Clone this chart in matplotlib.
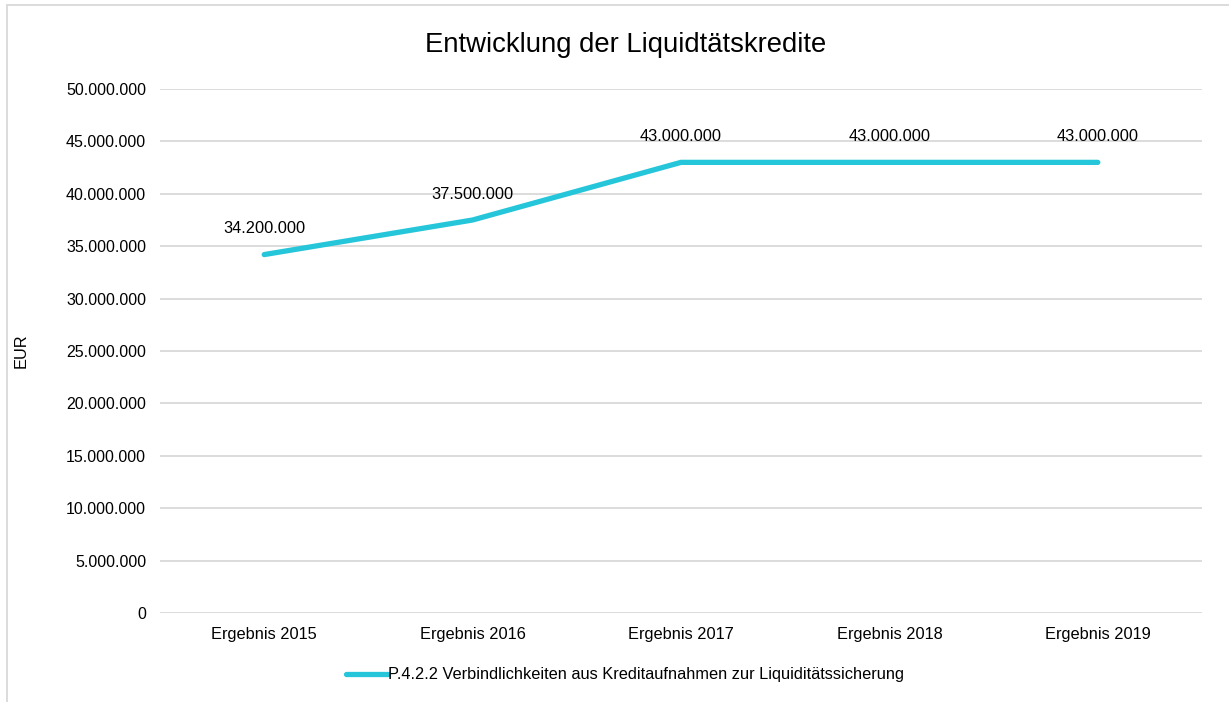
import matplotlib
matplotlib.use("Agg")
import matplotlib.pyplot as plt
from matplotlib.patches import Rectangle
from matplotlib.ticker import FuncFormatter

categories = ["Ergebnis 2015", "Ergebnis 2016", "Ergebnis 2017", "Ergebnis 2018", "Ergebnis 2019"]
values = [34200000, 37500000, 43000000, 43000000, 43000000]
series_name = "P.4.2.2 Verbindlichkeiten aus Kreditaufnahmen zur Liquiditätssicherung"
title = "Entwicklung der Liquidtätskredite"
ylabel = "EUR"

plt.rcParams['font.family'] = ['Liberation Sans', 'DejaVu Sans']

W, H = 1229, 702
fig = plt.figure(figsize=(W/100, H/100), dpi=100)
ax = fig.add_axes([160/W, 1-613/H, (1202-160)/W, (613-89)/H])

FS = 11.8

def fmt(v):
    return f"{int(round(v)):,}".replace(",", ".")

x = list(range(len(categories)))
line, = ax.plot(x, values, color="#26C6DA", lw=3.8, solid_capstyle="round", label=series_name)
for xi, v in zip(x, values):
    ax.annotate(fmt(v), (xi, v), xytext=(0, 18.5), textcoords="offset points",
                ha="center", va="center", fontsize=FS, color="#000000")

ax.set_xlim(-0.5, len(categories)-0.5)
ax.set_ylim(0, 50000000)
ax.set_yticks(range(0, 50000001, 5000000))
ax.yaxis.set_major_formatter(FuncFormatter(lambda v, p: fmt(v)))
ax.set_xticks(x)
ax.set_xticklabels(categories)
ax.tick_params(axis="both", length=0, colors="#000000")
ax.tick_params(axis="y", pad=10, labelsize=11.5)
ax.tick_params(axis="x", pad=10, labelsize=FS)
ax.grid(axis="y", color="#D9D9D9", lw=1.3)
ax.set_axisbelow(True)
for s in ax.spines.values():
    s.set_visible(False)

fig.text(21/W, 1-351/H, ylabel, rotation=90, ha="center", va="center", fontsize=FS)

fig.text(626/W, 1-45/H, title, ha="center", va="center", fontsize=19.8)

fig.legend(handles=[line], loc="center", bbox_to_anchor=(625/W, 1-675/H), frameon=False,
           fontsize=FS, handlelength=2.6, handletextpad=0.0)

fig.patches.append(Rectangle((7/W, -0.01), 1.05, 1-5/H+0.01, transform=fig.transFigure,
                             fill=False, edgecolor="#D9D9D9", lw=1.3))

fig.savefig("out.png", dpi=100)
